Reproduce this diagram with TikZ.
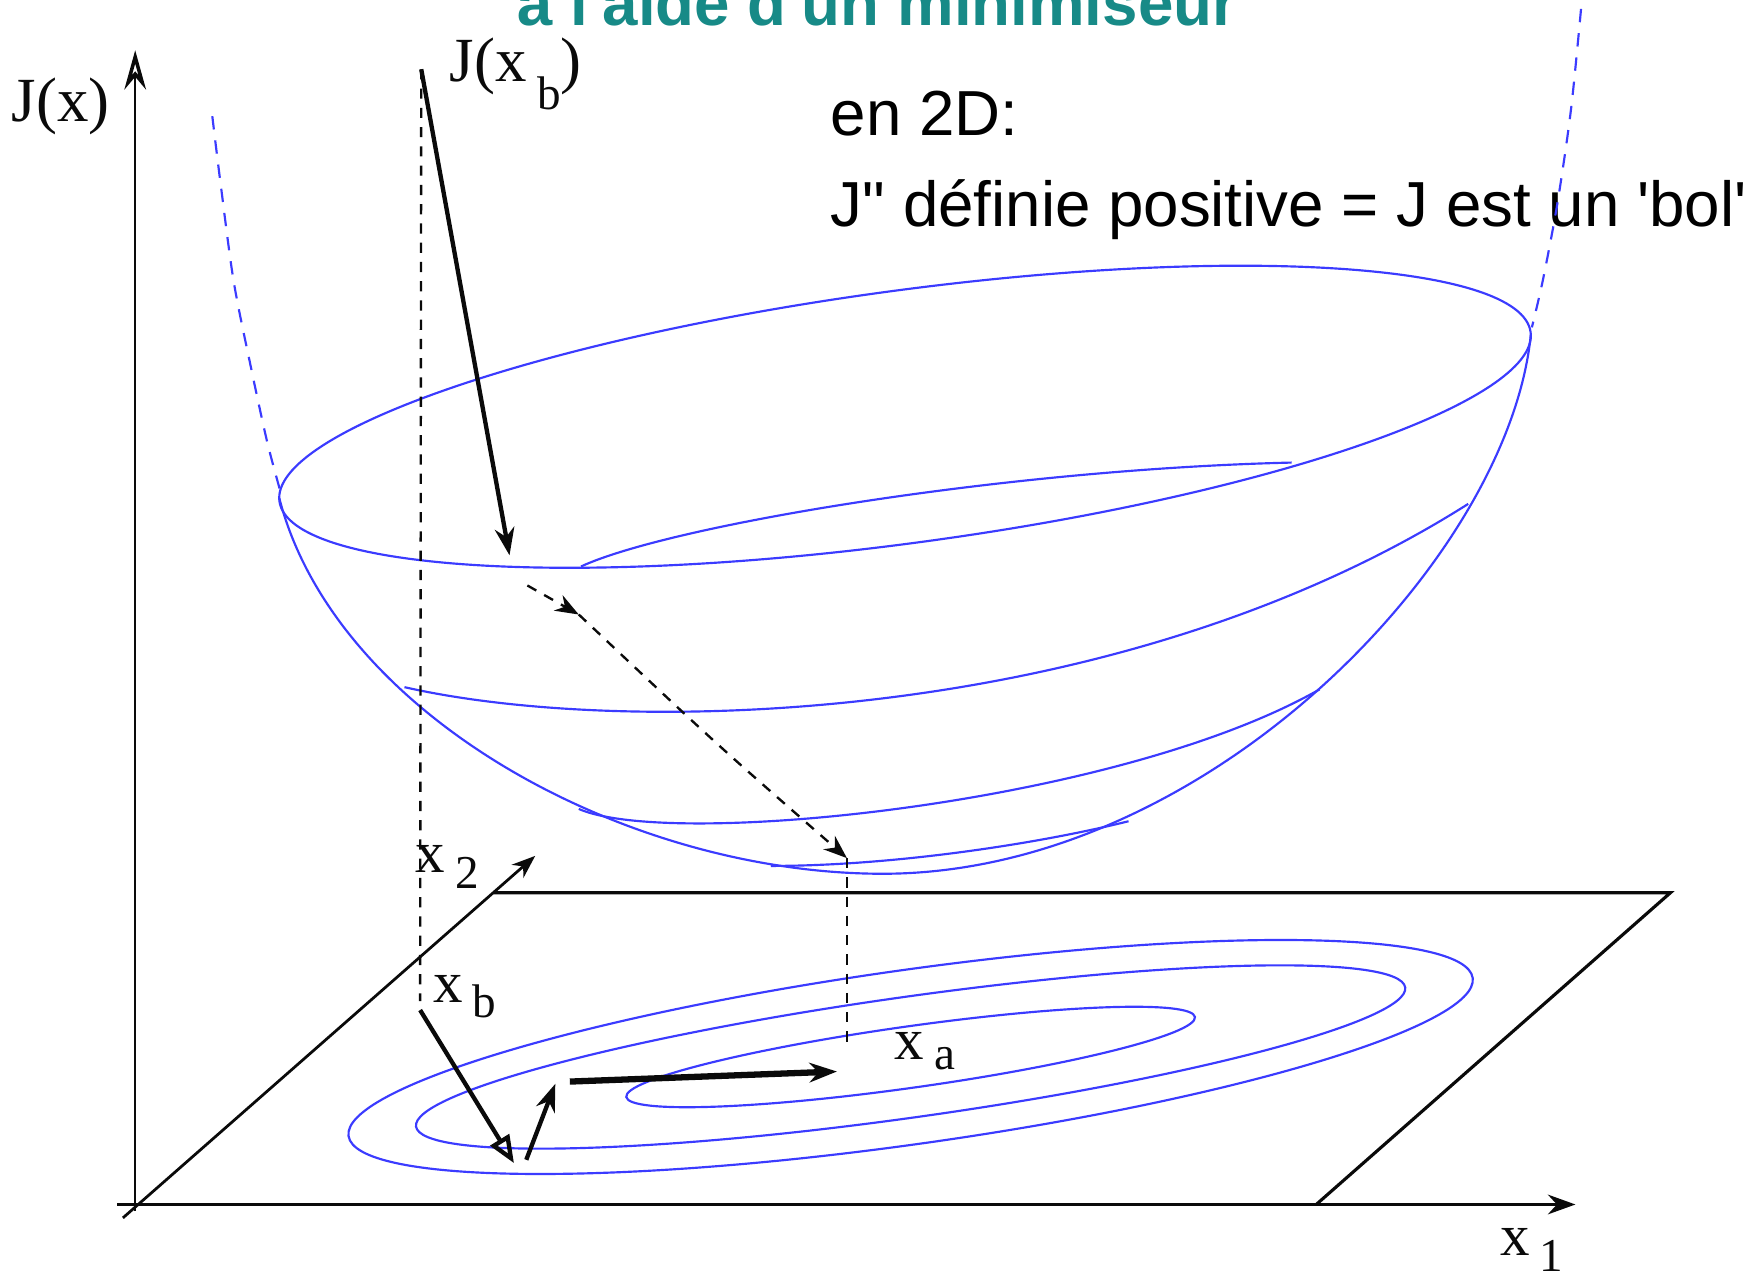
\documentclass[tikz,border=0pt]{standalone}
\usepackage{fontspec}
\usepackage{tikz}
\usetikzlibrary{arrows.meta}
\usetikzlibrary{positioning}
\newfontfamily\slidefont{Liberation Sans}[Ligatures=TeXOff]
\newfontfamily\figfont{Liberation Serif}
\definecolor{bowl-blue}{HTML}{3B3BFF}
\definecolor{slide-teal}{HTML}{178A87}
\definecolor{fig-dark}{HTML}{0A0A0A}
\newcommand{\lowsub}[2][4pt]{\hspace{2.6pt}\raisebox{-#1}{\fontsize{12}{13}\selectfont #2}}

\begin{document}
\begin{tikzpicture}[x=0.01cm, y=-0.01cm, >=Stealth,
    bowl/.style={bowl-blue, line width=0.55pt},
    bowlext/.style={bowl-blue, line width=0.55pt, dash pattern=on 3.4pt off 2.8pt},
    axisline/.style={fig-dark, line width=0.6pt},
    drop/.style={fig-dark, line width=0.6pt, dash pattern=on 2.6pt off 2.3pt},
    descent/.style={fig-dark, line width=1.1pt, -{Stealth[length=7pt, width=5pt]}},
    figlabel/.style={fig-dark, inner sep=0pt, anchor=base west, font=\figfont\fontsize{15}{17}\selectfont},
    slidetext/.style={inner sep=0pt, anchor=base west, font=\slidefont\fontsize{16.2}{19}\selectfont}]
    \useasboundingbox (0,0) rectangle (1568,1137);

    % --- Slide texts ---
    \node[slidetext, slide-teal, text depth=0pt, font=\slidefont\bfseries\fontsize{16.2}{19}\selectfont] (title) at (462,23) {à l'aide d'un minimiseur};
    \node[slidetext] (en2d) at (743,121) {en 2D:};
    \node[slidetext] (hess) at (743,203) {J" définie positive = J est un 'bol'};

    % --- Axes and the (x1,x2) plane ---
    \coordinate (jfoot) at (121,1084);
    \coordinate (jtop) at (121,45);
    \coordinate (hfoot) at (105,1078);
    \coordinate (hend) at (1410,1078);
    \coordinate (ofoot) at (110,1090);
    \coordinate (otip) at (479,766);
    \coordinate (pback) at (442,799);
    \coordinate (pbr) at (1495,799);
    \coordinate (pfr) at (1178,1078);

    % Draw axes
    \draw[axisline, -{Stealth[open, length=10pt, width=5.5pt, line width=0.9pt]}] (jfoot) -- (jtop);
    \draw[axisline, line width=0.85pt, -{Stealth[length=7pt, width=5pt]}] (hfoot) -- (hend);
    \draw[axisline, line width=0.7pt, -{Stealth[length=6pt, width=4.5pt]}] (ofoot) -- (otip);
    \draw[axisline, line width=0.8pt] (pback) -- (pbr) -- (pfr);

    % Level curves in the plane
    \coordinate (ctr) at (815,946);
    \foreach \ra/\rb in {508/78, 447/54, 257/27.5} {
        \draw[bowl, rotate around={8:(ctr)}] (ctr) ellipse [x radius=\ra, y radius=\rb];
    }

    % --- The bowl J(x) ---
    \coordinate (rimc) at (810,373);
    \coordinate (rimleft) at (250,446);
    \coordinate (rimright) at (1370,300);
    \coordinate (bottom) at (790,782);
    \draw[bowl, rotate around={7.7:(rimc)}] (rimc) ellipse [x radius=565, y radius=113];
    \draw[bowl] (rimleft) .. controls (300,640) and (560,782) .. (bottom)
                          .. controls (1080,782) and (1350,500) .. (rimright);
    % level curves on the bowl
    \draw[bowl] (362,615) .. controls (560,660) and (1000,650) .. (1314,451);
    \draw[bowl] (520,507) .. controls (600,470) and (900,420) .. (1156,414);
    \draw[bowl] (518,724) .. controls (600,760) and (1000,720) .. (1181,617);
    \draw[bowl] (690,775) .. controls (800,775) and (930,755) .. (1010,735);

    % Paraboloid going on above the rim
    \draw[bowlext] plot[smooth] coordinates {(190,104) (197,161) (209,251) (224,326) (239,395) (251,440)};
    \draw[bowlext] plot[smooth] coordinates {(1415,8) (1406,98) (1394,181) (1381,250) (1371,293)};

    % --- Background point, minimiser path ---
    \coordinate (jxbpt) at (377,62);
    \coordinate (xbpt) at (376,896);
    \coordinate (rimhit) at (456,497);
    \coordinate (g0) at (472,524);
    \coordinate (g1) at (518,550);
    \coordinate (xamin) at (758,768);
    \coordinate (xapt) at (758,937);
    \draw[drop] (jxbpt) -- (xbpt);
    \draw[drop] (xamin) -- (xapt);
    \draw[descent] (jxbpt) -- (rimhit);
    \draw[drop, -{Stealth[length=6pt, width=4.5pt]}] (g0) -- (g1);
    \draw[drop, -{Stealth[length=6pt, width=4.5pt]}] (g1) .. controls (640,665) .. (xamin);

    % Steps of the minimiser in the plane
    \coordinate (s0) at (376,904);
    \coordinate (s1) at (460,1041);
    \coordinate (s1b) at (471,1038);
    \coordinate (s2) at (497,970);
    \coordinate (s2b) at (510,968);
    \coordinate (s3) at (749,959);
    \draw[descent, -{Triangle[open, length=7pt, width=5.5pt]}] (s0) -- (s1);
    \draw[descent] (s1b) -- (s2);
    \draw[descent, line width=1.6pt] (s2b) -- (s3);

    % Axis labels
    \node[figlabel, font=\figfont\fontsize{16}{18}\selectfont] (jx) at (10,109) {J(x)};
    \node[figlabel, font=\figfont\fontsize{16}{18}\selectfont] (jxb) at (402,73) {J(x\lowsub[7pt]{b})};
    \node[figlabel] (xtwo) at (371,781) {x\lowsub{2}};
    \node[figlabel] (xb) at (387,897) {x\lowsub{b}};
    \node[figlabel] (xa) at (800,948) {x\lowsub[2.5pt]{a}};
    \node[figlabel] (xone) at (1342,1124) {x\lowsub{1}};
\end{tikzpicture}
\end{document}
